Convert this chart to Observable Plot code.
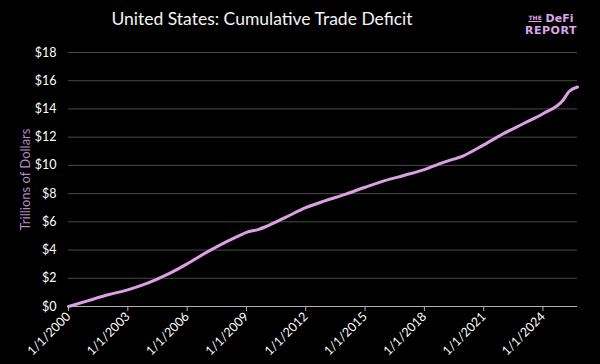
<!DOCTYPE html>
<html>
<head>
<meta charset="utf-8">
<script src="https://cdn.jsdelivr.net/npm/d3@7"></script>
<script src="https://cdn.jsdelivr.net/npm/@observablehq/plot@0.6"></script>
<style>
  html, body { margin: 0; padding: 0; background: #000; }
  #wrap { position: relative; width: 600px; height: 364px; background: #000; overflow: hidden; font-family: Lato, "Open Sans", sans-serif; }
  #title { position: absolute; left: 0; width: 524px; top: 8px; text-align: center; color: #f4f4f4; font-size: 17.5px; font-family: Lato, sans-serif; font-weight: 400; }
  #logo { position: absolute; left: 521px; top: 12px; width: 60px; color: #dca6e8; font-family: "DejaVu Sans", sans-serif; font-weight: bold; line-height: 12px; text-align: center; }
  #logo .l1 { font-size: 11px; }
  #logo .l1 small { font-size: 6px; text-decoration: underline; vertical-align: 2px; }
  #logo .l2 { font-size: 11px; letter-spacing: 0.5px; }
  #chart { position: absolute; left: 0; top: 0; }
</style>
</head>
<body>
<div id="wrap">
  <div id="chart"></div>
  <div id="title">United States: Cumulative Trade Deficit</div>
  <div id="logo"><div class="l1"><small>THE</small> DeFi</div><div class="l2">REPORT</div></div>
</div>
<script>
const dates = ["2000-01-01","2001-01-01","2002-01-01","2003-01-01","2004-01-01","2005-01-01","2006-01-01","2007-01-01","2008-01-01","2008-10-01","2009-01-01","2009-08-01","2010-01-01","2011-01-01","2012-01-01","2013-01-01","2014-01-01","2015-01-01","2016-01-01","2017-01-01","2018-01-01","2019-01-01","2020-01-01","2021-01-01","2022-01-01","2023-01-01","2024-01-01","2025-01-01","2025-05-01","2025-09-30"];
const values = [0, 0.42, 0.83, 1.18, 1.65, 2.27, 3.02, 3.85, 4.6, 5.1, 5.25, 5.45, 5.67, 6.33, 7.0, 7.5, 7.95, 8.45, 8.92, 9.3, 9.7, 10.23, 10.7, 11.45, 12.25, 12.95, 13.66, 14.6, 15.25, 15.55];
const tickDates = ["2000-01-01","2003-01-01","2006-01-01","2009-01-01","2012-01-01","2015-01-01","2018-01-01","2021-01-01","2024-01-01"];
const yTicks = [0, 2, 4, 6, 8, 10, 12, 14, 16, 18];

const data = dates.map((d, i) => ({date: new Date(d + "T00:00:00Z"), value: values[i]}));
const xt = tickDates.map(d => new Date(d + "T00:00:00Z"));
const fmt = d => `${d.getUTCMonth() + 1}/${d.getUTCDate()}/${d.getUTCFullYear()}`;

const chart = Plot.plot({
  width: 600,
  height: 364,
  marginLeft: 68,
  marginRight: 23,
  marginTop: 52,
  marginBottom: 58,
  style: {background: "#000", color: "#fff", fontFamily: "Lato, sans-serif", fontSize: "12px"},
  x: {type: "utc", domain: [new Date("2000-01-01T00:00:00Z"), new Date("2025-09-30T00:00:00Z")]},
  y: {domain: [0, 18]},
  marks: [
    Plot.gridY(yTicks.filter(v => v > 0), {stroke: "#4a4a4a", strokeOpacity: 1, strokeWidth: 1}),
    Plot.ruleY([0], {stroke: "#b0b0b0", strokeWidth: 1.2}),
    Plot.axisY(yTicks, {tickSize: 0, tickPadding: 12, tickFormat: d => "$" + d, fill: "#fff", fontSize: 12.5, label: null}),
    Plot.axisX(xt, {tickSize: 5, stroke: "#b0b0b0", tickRotate: -45, tickFormat: fmt, fill: "#fff", fontSize: 12.5, tickPadding: 3, label: null}),
    Plot.text(["Trillions of Dollars"], {frameAnchor: "left", textAnchor: "middle", dx: -43, rotate: -90, fill: "#b58cc6", fontSize: 13}),
    Plot.line(data, {x: "date", y: "value", stroke: "#dda0e6", strokeWidth: 3, curve: "monotone-x"})
  ]
});
document.getElementById("chart").appendChild(chart);
</script>
</body>
</html>
